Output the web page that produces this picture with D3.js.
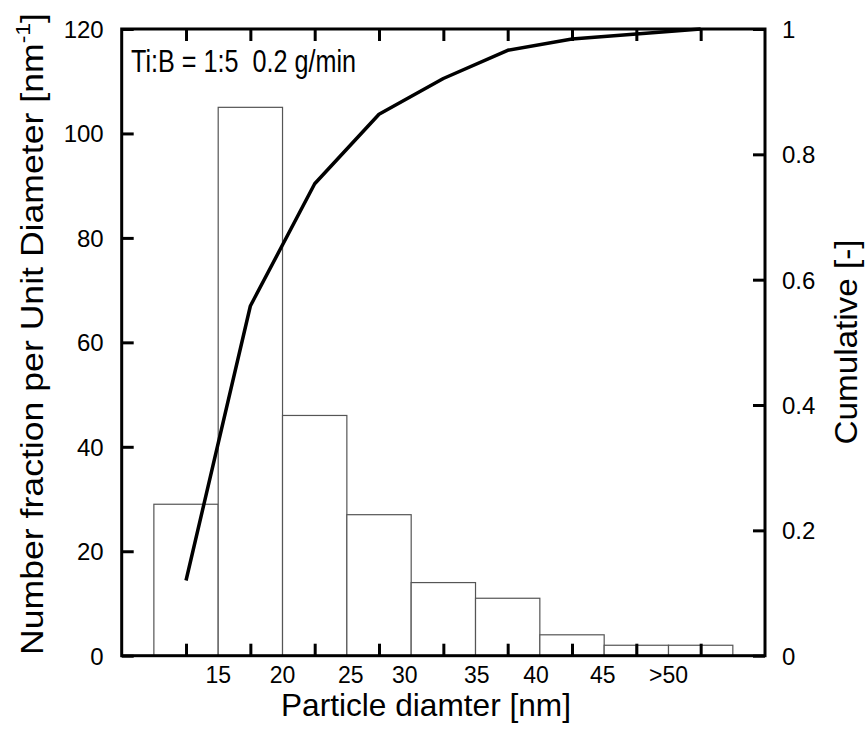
<!DOCTYPE html>
<html>
<head>
<meta charset="utf-8">
<script src="https://cdn.jsdelivr.net/npm/d3@7"></script>
<style>
  html, body { margin: 0; padding: 0; background: #fff; }
  svg { display: block; }
  text { font-family: "Liberation Sans", Arial, Helvetica, sans-serif; fill: #000; }
</style>
</head>
<body>
<svg id="chart" width="865" height="734"></svg>
<script>
// ---- data ----
const binEdges = [10, 15, 20, 25, 30, 35, 40, 45, 47.5, 50, 52.5, 55];
const binValues = [29, 105, 46, 27, 14, 11, 4, 2, 2, 2, 2];
const cumX = [12.5, 17.5, 22.5, 27.5, 32.5, 37.5, 42.5, 47.5, 52.5];
const cumValues = [0.12, 0.558, 0.753, 0.864, 0.921, 0.966, 0.984, 0.992, 1.0];
const xTickValues = [12.5, 17.5, 22.5, 27.5, 32.5, 37.5, 42.5, 47.5, 52.5];
const xLabelText = ["15", "20", "25", "30", "35", "40", "45", ">50"];
const xLabelAt = [15, 20, 25.3, 29.5, 35.1, 39.7, 44.9, 50];
const yLeftTicks = [0, 20, 40, 60, 80, 100, 120];
const yRightTicks = [0, 0.2, 0.4, 0.6, 0.8, 1];
const yRightLabels = ["0", "0.2", "0.4", "0.6", "0.8", "1"];

// ---- layout ----
const W = 865, H = 734;
const m = { left: 121.7, right: 100, top: 29, bottom: 78.3 };
const svg = d3.select("#chart");

const x = d3.scaleLinear().domain([7.5, 57.5]).range([m.left, W - m.right]);
const yL = d3.scaleLinear().domain([0, 120]).range([H - m.bottom, m.top]);
const yR = d3.scaleLinear().domain([0, 1]).range([H - m.bottom, m.top]);

// bars
const bars = binValues.map((v, i) => ({ x0: binEdges[i], x1: binEdges[i + 1], v }));
svg.append("g").selectAll("rect").data(bars).join("rect")
  .attr("x", d => x(d.x0))
  .attr("y", d => yL(d.v))
  .attr("width", d => x(d.x1) - x(d.x0))
  .attr("height", d => yL(0) - yL(d.v))
  .attr("fill", "#fff")
  .attr("stroke", "#555")
  .attr("stroke-width", 1.2);

// cumulative line
svg.append("path")
  .datum(cumX.map((d, i) => [d, cumValues[i]]))
  .attr("fill", "none")
  .attr("stroke", "#000")
  .attr("stroke-width", 3.5)
  .attr("stroke-linejoin", "round")
  .attr("d", d3.line().x(d => x(d[0])).y(d => yR(d[1])));

const TL = 12;
const gB = svg.append("g").attr("transform", `translate(0,${H - m.bottom})`)
  .call(d3.axisBottom(x).tickValues(xTickValues).tickSize(-TL).tickFormat(""));
const gT = svg.append("g").attr("transform", `translate(0,${m.top})`)
  .call(d3.axisTop(x).tickValues(xTickValues).tickSize(-TL).tickFormat(""));
const gL = svg.append("g").attr("transform", `translate(${m.left},0)`)
  .call(d3.axisLeft(yL).tickValues(yLeftTicks).tickSize(-TL).tickFormat(d3.format("d")));
const gR = svg.append("g").attr("transform", `translate(${W - m.right},0)`)
  .call(d3.axisRight(yR).tickValues(yRightTicks).tickSize(-TL)
    .tickFormat((d, i) => yRightLabels[i]));

[gB, gT, gL, gR].forEach(g => {
  g.select(".domain").remove();
  g.selectAll(".tick line").attr("stroke", "#000").attr("stroke-width", 3);
  g.selectAll(".tick text").attr("font-size", 24)
    .style("font-family", '"Liberation Sans", Arial, sans-serif');
});
gL.selectAll(".tick text").attr("x", -18).attr("dy", "0.35em");
gR.selectAll(".tick text").attr("x", 17).attr("dy", "0.35em");

// frame
svg.append("rect")
  .attr("x", m.left).attr("y", m.top)
  .attr("width", W - m.right - m.left).attr("height", H - m.bottom - m.top)
  .attr("fill", "none").attr("stroke", "#000").attr("stroke-width", 3);

// bottom category labels
svg.append("g").selectAll("text").data(xLabelText).join("text")
  .attr("x", (d, i) => x(xLabelAt[i]))
  .attr("y", 683)
  .attr("text-anchor", "middle")
  .attr("font-size", 23)
  .text(d => d);

// axis titles
svg.append("text")
  .attr("x", 426).attr("y", 716)
  .attr("text-anchor", "middle")
  .attr("font-size", 32)
  .attr("textLength", 290)
  .attr("lengthAdjust", "spacingAndGlyphs")
  .text("Particle diamter [nm]");

const lt = svg.append("text")
  .attr("transform", `translate(43,334) rotate(-90)`)
  .attr("text-anchor", "middle")
  .attr("font-size", 31)
  .attr("textLength", 642)
  .attr("lengthAdjust", "spacingAndGlyphs");
lt.append("tspan").text("Number fraction per Unit Diameter [nm");
lt.append("tspan").attr("font-size", 20).attr("dy", -13).text("-1");
lt.append("tspan").attr("dy", 13).text("]");

svg.append("text")
  .attr("transform", `translate(857,342) rotate(-90)`)
  .attr("text-anchor", "middle")
  .attr("font-size", 31)
  .attr("textLength", 205)
  .attr("lengthAdjust", "spacingAndGlyphs")
  .text("Cumulative [-]");

// annotation
svg.append("text")
  .attr("x", 131).attr("y", 72)
  .attr("font-size", 31)
  .attr("textLength", 225)
  .attr("lengthAdjust", "spacingAndGlyphs")
  .style("white-space", "pre")
  .text("Ti:B = 1:5  0.2 g/min");
</script>
</body>
</html>
